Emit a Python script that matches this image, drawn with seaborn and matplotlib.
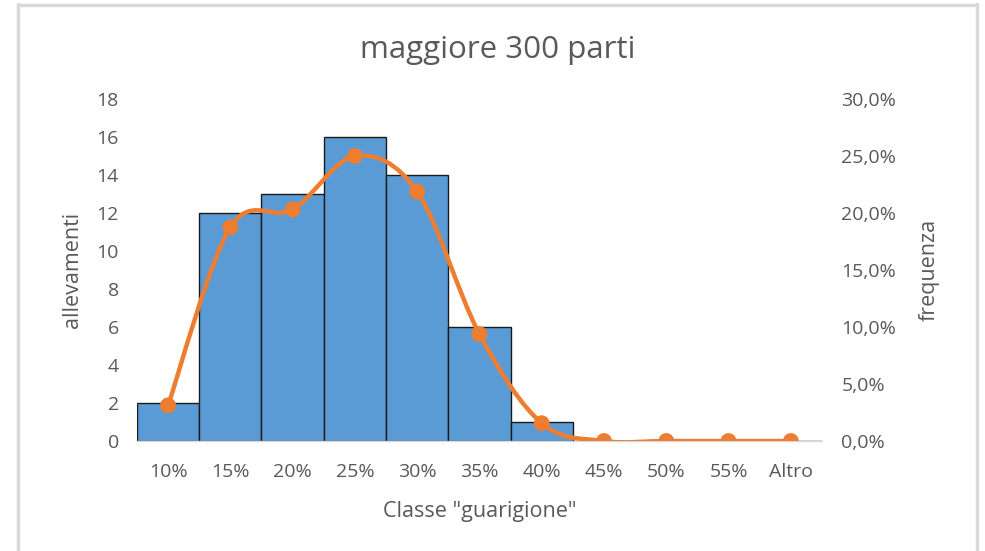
import numpy as np
import matplotlib
matplotlib.use("Agg")
from matplotlib import pyplot as plt
from matplotlib.path import Path
from matplotlib.patches import PathPatch
from matplotlib.ticker import FuncFormatter
import seaborn as sns

# data
classes = ["10%", "15%", "20%", "25%", "30%", "35%", "40%", "45%", "50%", "55%", "Altro"]
counts = [2, 12, 13, 16, 14, 6, 1, 0, 0, 0, 0]
left_ticks = [0, 2, 4, 6, 8, 10, 12, 14, 16, 18]
right_ticks = [0.0, 0.05, 0.10, 0.15, 0.20, 0.25, 0.30]

BAR_BLUE = "#5B9BD5"
ORANGE = "#ED7D31"
TXT = "#595959"

sns.set_style("white")
plt.rcParams["font.family"] = ["Open Sans", "DejaVu Sans"]

fig = plt.figure(figsize=(9.85, 5.51), dpi=100)
ax = fig.add_axes([0.139, 0.1996, 0.6955, 0.6207])

sns.barplot(x=classes, y=counts, color=BAR_BLUE, saturation=1, width=1.0,
            edgecolor="#1a1a1a", linewidth=1.0, ax=ax)
ax.set_xlim(-0.5, len(classes) - 0.5)
ax.set_ylim(0, 18)
ax.set_yticks(left_ticks)

# second axis: relative frequency with a smoothed line (Excel style)
freq = np.array(counts) / np.sum(counts)
xs = np.arange(len(classes))
ax2 = ax.twinx()
ax2.set_ylim(0, 0.30)
ax2.set_yticks(right_ticks)
ax2.yaxis.set_major_formatter(FuncFormatter(lambda v, p: f"{v*100:.1f}%".replace(".", ",")))

pts = np.column_stack([xs, freq])
verts = [pts[0]]
codes = [Path.MOVETO]
for i in range(len(pts) - 1):
    p0 = pts[i - 1] if i > 0 else pts[i]
    p1, p2 = pts[i], pts[i + 1]
    p3 = pts[i + 2] if i + 2 < len(pts) else pts[i + 1]
    c1 = p1 + (p2 - p0) / 6.0
    c2 = p2 - (p3 - p1) / 6.0
    verts += [c1, c2, p2]
    codes += [Path.CURVE4] * 3
ax2.add_patch(PathPatch(Path(verts, codes), facecolor="none", edgecolor=ORANGE,
                        linewidth=3.2, capstyle="round", joinstyle="round", zorder=3))
sns.scatterplot(x=xs, y=freq, color=ORANGE, s=130, edgecolor="none", zorder=4, ax=ax2)
ax2.set_xlim(-0.5, len(classes) - 0.5)

for a in (ax, ax2):
    for s in a.spines.values():
        s.set_visible(False)
ax.spines["bottom"].set_visible(True)
ax.spines["bottom"].set_color("#d9d9d9")
ax.spines["bottom"].set_linewidth(1.0)

ax.tick_params(axis="both", length=0, labelsize=14, labelcolor=TXT)
ax.tick_params(axis="y", pad=13)
ax.tick_params(axis="x", pad=16)
ax2.tick_params(axis="y", length=0, labelsize=14, labelcolor=TXT, pad=14)

ax.set_xlabel('Classe "guarigione"', fontsize=15.5, color=TXT, labelpad=14)
ax.set_ylabel("allevamenti", fontsize=15.5, color=TXT, labelpad=10)
ax2.set_ylabel("frequenza", fontsize=15.5, color=TXT, labelpad=16)
fig.text(0.505, 0.91, "maggiore 300 parti", ha="center", va="center",
         fontsize=22.5, color=TXT)

# chart frame like the spreadsheet border
frame = "#d9d9d9"
fig.add_artist(plt.Line2D([18 / 985, 18 / 985], [0, 1 - 4 / 551], color=frame, lw=2.5, transform=fig.transFigure))
fig.add_artist(plt.Line2D([977 / 985, 977 / 985], [0, 1 - 4 / 551], color=frame, lw=2.5, transform=fig.transFigure))
fig.add_artist(plt.Line2D([18 / 985, 977 / 985], [1 - 4.5 / 551, 1 - 4.5 / 551], color=frame, lw=2.5, transform=fig.transFigure))

fig.savefig("out.png", dpi=100, facecolor="white")
